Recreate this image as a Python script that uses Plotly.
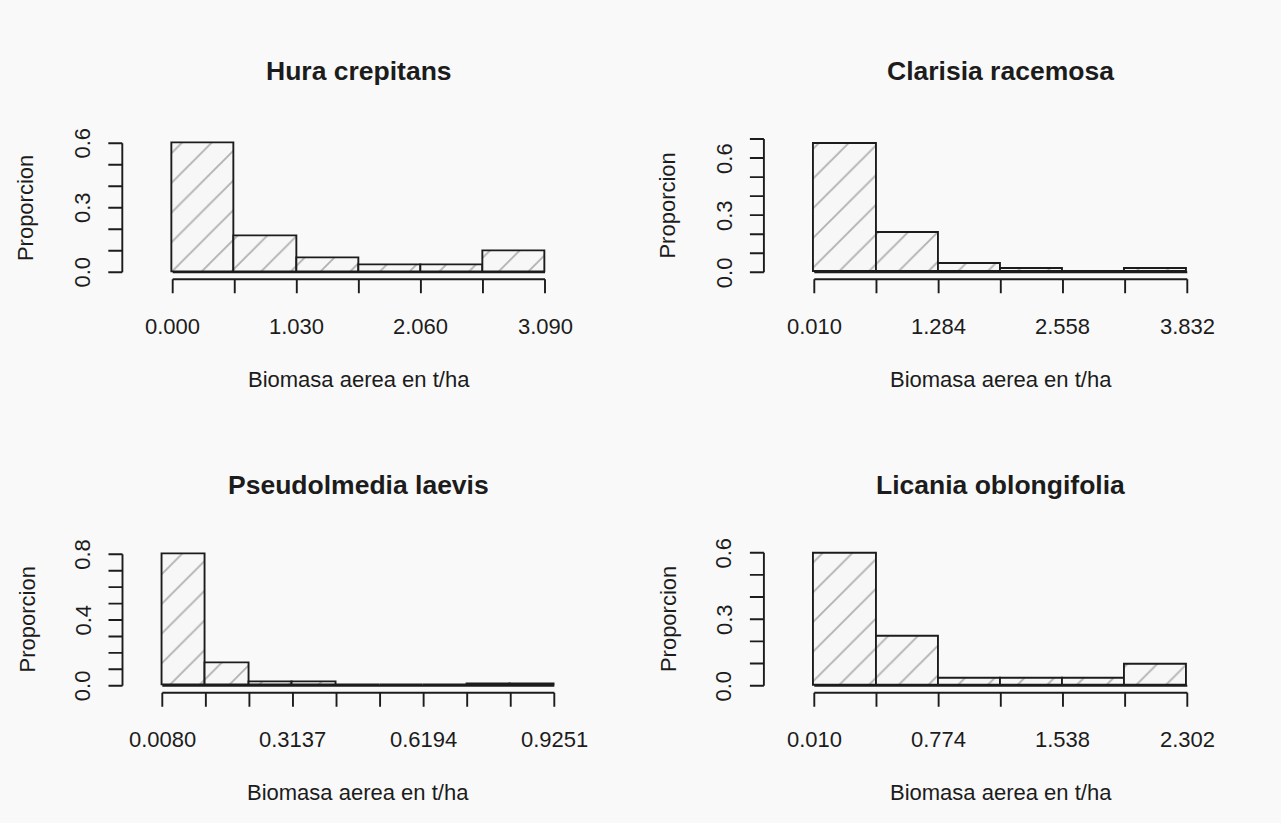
import plotly.graph_objects as go

W, H = 1281, 823
BG = "#f9f9f9"
INK = "#1c1c1c"
FONT = "Liberation Sans, Arial, sans-serif"

# ---- data: bin edges and proportion per bin for each species ----
titles = ["Hura crepitans", "Clarisia racemosa", "Pseudolmedia laevis", "Licania oblongifolia"]

hura_edges = [0.000, 0.515, 1.030, 1.545, 2.060, 2.575, 3.090]
hura_prop = [0.600, 0.167, 0.067, 0.033, 0.033, 0.100]
hura_xlabels = ["0.000", "1.030", "2.060", "3.090"]
hura_yticks = [0.0, 0.1, 0.2, 0.3, 0.4, 0.5, 0.6]
hura_ylabels = ["0.0", "0.3", "0.6"]

clarisia_edges = [0.010, 0.647, 1.284, 1.921, 2.558, 3.195, 3.832]
clarisia_prop = [0.675, 0.208, 0.044, 0.016, 0.000, 0.016]
clarisia_xlabels = ["0.010", "1.284", "2.558", "3.832"]
clarisia_yticks = [0.0, 0.1, 0.2, 0.3, 0.4, 0.5, 0.6, 0.7]
clarisia_ylabels = ["0.0", "0.3", "0.6"]

pseudo_edges = [0.0080, 0.1099, 0.2118, 0.3137, 0.4156, 0.5175, 0.6194, 0.7213, 0.8232, 0.9251]
pseudo_prop = [0.800, 0.138, 0.022, 0.022, 0.000, 0.000, 0.000, 0.007, 0.007]
pseudo_xlabels = ["0.0080", "0.3137", "0.6194", "0.9251"]
pseudo_yticks = [0.0, 0.1, 0.2, 0.3, 0.4, 0.5, 0.6, 0.7, 0.8]
pseudo_ylabels = ["0.0", "0.4", "0.8"]

licania_edges = [0.010, 0.392, 0.774, 1.156, 1.538, 1.920, 2.302]
licania_prop = [0.594, 0.219, 0.031, 0.031, 0.031, 0.094]
licania_xlabels = ["0.010", "0.774", "1.538", "2.302"]
licania_yticks = [0.0, 0.1, 0.2, 0.3, 0.4, 0.5, 0.6]
licania_ylabels = ["0.0", "0.3", "0.6"]

xlabel = "Biomasa aerea en t/ha"
ylabel = "Proporcion"

panels = [
    dict(title=titles[0], edges=hura_edges, prop=hura_prop, xlab=hura_xlabels, xstep=2,
         yticks=hura_yticks, ylab=hura_ylabels, ystep=3,
         px=(172.7, 545.0), py=(272.3, 143.3), ypix_top=0.6, yaxis_off=50.4),
    dict(title=titles[1], edges=clarisia_edges, prop=clarisia_prop, xlab=clarisia_xlabels, xstep=2,
         yticks=clarisia_yticks, ylab=clarisia_ylabels, ystep=3,
         px=(814.3, 1187.3), py=(272.3, 139.0), ypix_top=0.7, yaxis_off=50.4),
    dict(title=titles[2], edges=pseudo_edges, prop=pseudo_prop, xlab=pseudo_xlabels, xstep=3,
         yticks=pseudo_yticks, ylab=pseudo_ylabels, ystep=4,
         px=(162.3, 554.3), py=(685.7, 554.3), ypix_top=0.8, yaxis_off=39.8),
    dict(title=titles[3], edges=licania_edges, prop=licania_prop, xlab=licania_xlabels, xstep=2,
         yticks=licania_yticks, ylab=licania_ylabels, ystep=3,
         px=(814.3, 1187.3), py=(685.7, 552.7), ypix_top=0.6, yaxis_off=50.4),
]

TICK = 14      # tick length, px
XOFF = 7       # gap between bar baseline and x-axis line, px

fig = go.Figure()
shapes, annotations = [], []
layout_axes = {}

for i, p in enumerate(panels, start=1):
    xs = "" if i == 1 else str(i)
    xref, yref = "x" + xs, "y" + xs
    e = p["edges"]
    d0, d1 = e[0], e[-1]
    (p0, p1) = p["px"]
    (b, t) = p["py"]
    top = p["ypix_top"]

    # pixel-to-data mapping for the subplot box
    sx = (d1 - d0) / (p1 - p0)
    lo_px = p0 - p["yaxis_off"] - TICK - 8
    hi_px = p1 + 8
    xdom = [lo_px / W, hi_px / W]
    xrng = [d0 + (lo_px - p0) * sx, d0 + (hi_px - p0) * sx]

    sy = top / (b - t)
    bot_px = b + XOFF + TICK + 8
    top_px = t - 8
    ydom = [1 - bot_px / H, 1 - top_px / H]
    yrng = [(b - bot_px) * sy, (b - top_px) * sy]

    ax = dict(visible=False, showgrid=False, zeroline=False, fixedrange=True)
    layout_axes["xaxis" + xs] = dict(ax, domain=xdom, range=xrng, anchor=yref)
    layout_axes["yaxis" + xs] = dict(ax, domain=ydom, range=yrng, anchor=xref)

    mids = [(e[k] + e[k + 1]) / 2 for k in range(len(e) - 1)]
    widths = [e[k + 1] - e[k] for k in range(len(e) - 1)]
    fig.add_trace(go.Bar(
        x=mids, y=p["prop"], width=widths, xaxis=xref, yaxis=yref,
        marker=dict(color="#f7f7f7",
                    line=dict(color=INK, width=1.9),
                    pattern=dict(shape="/", fgcolor="#6e6e6e", size=21,
                                 solidity=0.09, fillmode="overlay")),
        showlegend=False, hoverinfo="skip"))

    line = dict(color=INK, width=1.9)
    # bar baseline across all bins
    shapes.append(dict(type="line", xref=xref, yref=yref, x0=d0, x1=d1, y0=0, y1=0, line=line))
    # x axis: line below the bars plus a tick at every break
    shapes.append(dict(type="line", xref=xref, yref=yref, x0=d0, x1=d1,
                       ysizemode="pixel", yanchor=0, y0=-XOFF, y1=-XOFF, line=line))
    for v in e:
        shapes.append(dict(type="line", xref=xref, yref=yref, x0=v, x1=v,
                           ysizemode="pixel", yanchor=0, y0=-XOFF, y1=-XOFF - TICK, line=line))
    for v, lab in zip(e[::p["xstep"]], p["xlab"]):
        annotations.append(dict(xref=xref, yref=yref, x=v, y=0, yshift=-54, text=lab,
                                showarrow=False, font=dict(size=22, color=INK, family=FONT)))

    # y axis: line left of the bars with ticks every 0.1
    off = p["yaxis_off"]
    shapes.append(dict(type="line", xref=xref, yref=yref, xsizemode="pixel", xanchor=d0,
                       x0=-off, x1=-off, y0=p["yticks"][0], y1=p["yticks"][-1], line=line))
    for v in p["yticks"]:
        shapes.append(dict(type="line", xref=xref, yref=yref, xsizemode="pixel", xanchor=d0,
                           x0=-off, x1=-off - TICK, y0=v, y1=v, line=line))
    for v, lab in zip(p["yticks"][::p["ystep"]], p["ylab"]):
        annotations.append(dict(xref=xref, yref=yref, x=d0, xshift=-off - 40, y=v, text=lab,
                                textangle=-90, showarrow=False,
                                font=dict(size=22, color=INK, family=FONT)))

    # titles
    annotations.append(dict(xref=xref, yref=yref, x=(d0 + d1) / 2, y=0, yshift=201,
                            text="<b>" + p["title"] + "</b>", showarrow=False,
                            font=dict(size=26.5, color=INK, family=FONT)))
    annotations.append(dict(xref=xref, yref=yref, x=(d0 + d1) / 2, y=0, yshift=-107,
                            text=xlabel, showarrow=False,
                            font=dict(size=22, color=INK, family=FONT)))
    annotations.append(dict(xref=xref, yref=yref, x=d0, xshift=-off - 96, y=top / 2,
                            text=ylabel, textangle=-90, showarrow=False,
                            font=dict(size=22, color=INK, family=FONT)))

fig.update_layout(
    width=W, height=H, margin=dict(l=0, r=0, t=0, b=0),
    paper_bgcolor=BG, plot_bgcolor=BG,
    shapes=shapes, annotations=annotations, bargap=0,
    **layout_axes,
)

fig.write_html("out.html")
